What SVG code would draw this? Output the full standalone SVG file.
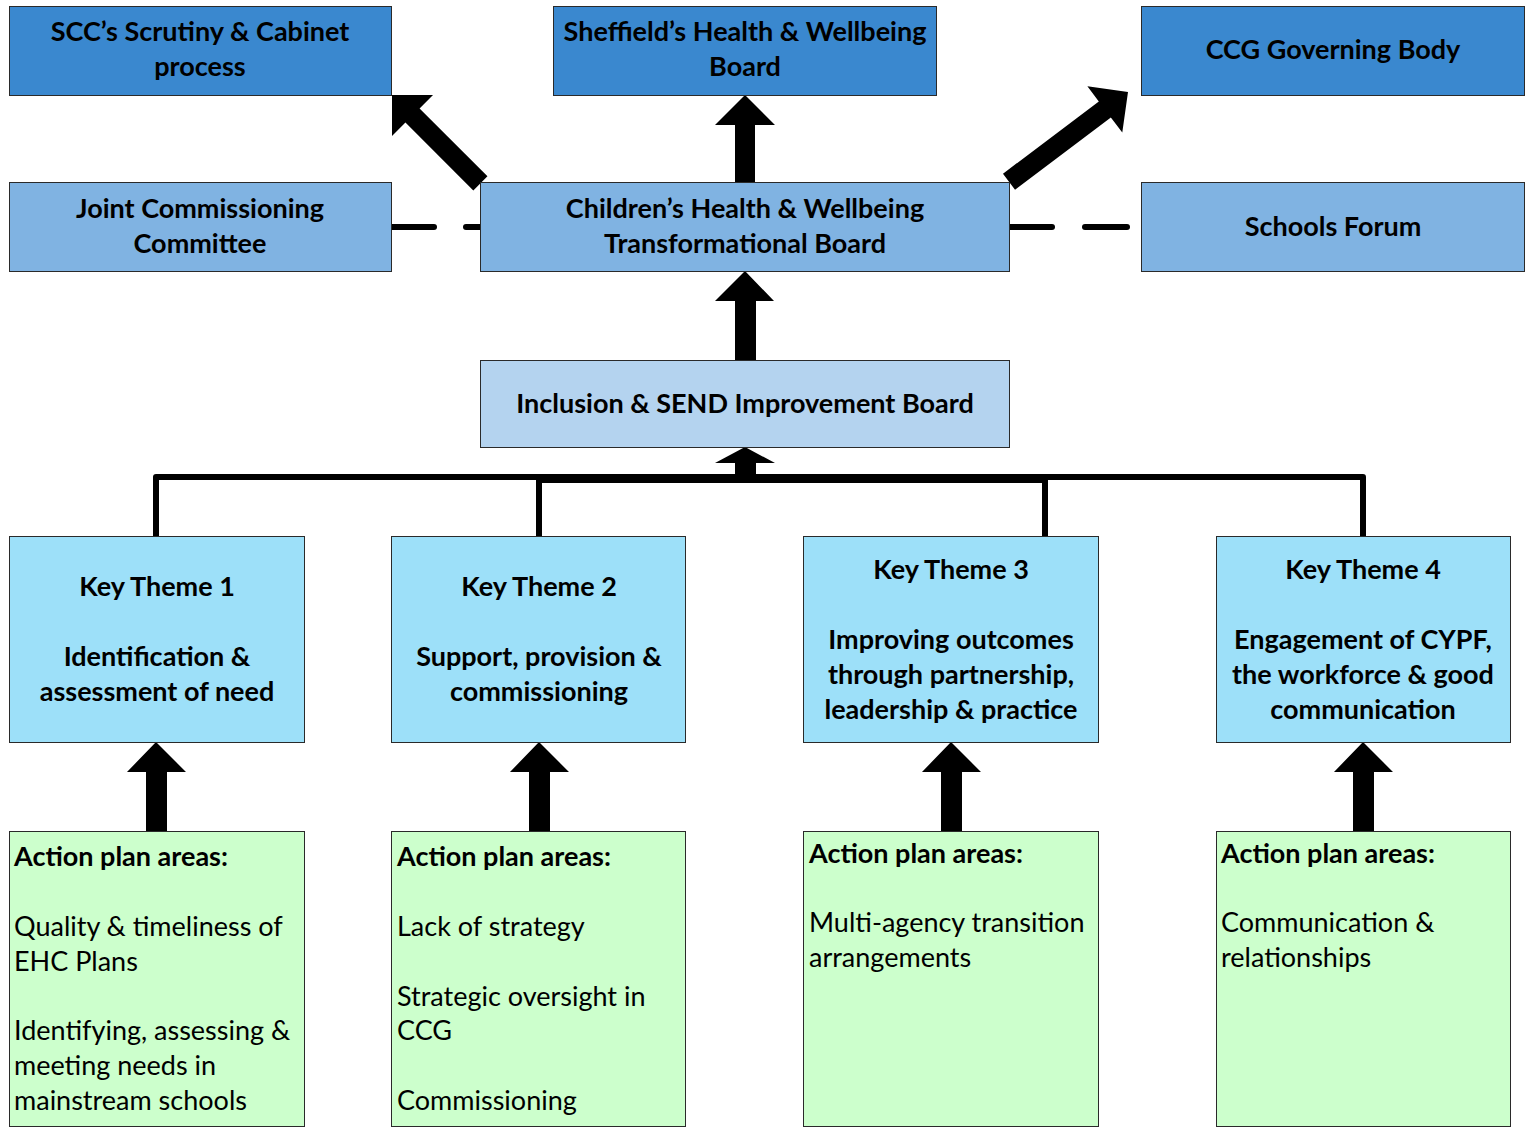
<svg xmlns="http://www.w3.org/2000/svg" width="1528" height="1128" viewBox="0 0 1528 1128">
<style>
  .box{stroke:#2a2a2a;stroke-width:1}
  .top{fill:#3a88cf}
  .mid{fill:#80b3e2}
  .inc{fill:#b4d3ef}
  .key{fill:#9de0f9}
  .act{fill:#ccffcc}
  text{font-family:Lato,"Liberation Sans",sans-serif;font-size:27px;fill:#000}
  .b{font-weight:bold}
  .c{text-anchor:middle}
  .arrow{fill:#000}
  .ln{stroke:#000;stroke-width:6;fill:none;stroke-linecap:round;stroke-linejoin:round}
</style>

<g id="connectors">
  <!-- dashed links -->
  <line class="ln" x1="391" y1="227" x2="434" y2="227"/>
  <line class="ln" x1="466" y1="227" x2="481" y2="227"/>
  <line class="ln" x1="1010" y1="227" x2="1052" y2="227"/>
  <line class="ln" x1="1085" y1="227" x2="1127" y2="227"/>
  <!-- block arrows -->
  <path class="arrow" transform="translate(392,95) rotate(-45)" d="M0,0 L29,29 L10,29 L10,125 L-10,125 L-10,29 L-29,29 Z"/>
  <path class="arrow" transform="translate(1128,92) rotate(53)" d="M0,0 L29,29 L10,29 L10,149 L-10,149 L-10,29 L-29,29 Z"/>
  <path class="arrow" d="M745,95 L775,125 L755,125 L755,182 L735,182 L735,125 L715,125 Z"/>
  <path class="arrow" d="M745,271 L774,301 L756,301 L756,360 L735,360 L735,301 L715,301 Z"/>
  <path class="arrow" d="M745,447 L775,463 L756,463 L756,478 L735,478 L735,463 L715,463 Z"/>
  <path class="arrow" d="M156,742 L186,772 L167,772 L167,831 L146,831 L146,772 L127,772 Z"/>
  <path class="arrow" d="M539,742 L569,772 L550,772 L550,831 L529,831 L529,772 L510,772 Z"/>
  <path class="arrow" d="M951,742 L981,772 L962,772 L962,831 L941,831 L941,772 L922,772 Z"/>
  <path class="arrow" d="M1363,742 L1393,772 L1374,772 L1374,831 L1353,831 L1353,772 L1334,772 Z"/>
  <!-- tree to themes -->
  <polyline class="ln" points="156,538 156,477 1363,477 1363,538"/>
  <polyline class="ln" points="539,538 539,480 1045,480 1045,538"/>
</g>

<g id="scc"><rect class="box top" x="9.5" y="6.5" width="382" height="89"/>
  <text class="b c" x="200" y="41">SCC’s Scrutiny &amp; Cabinet</text>
  <text class="b c" x="200" y="76">process</text></g>
<g id="hwb"><rect class="box top" x="553.5" y="6.5" width="383" height="89"/>
  <text class="b c" x="745" y="41">Sheffield’s Health &amp; Wellbeing</text>
  <text class="b c" x="745" y="76">Board</text></g>
<g id="ccg"><rect class="box top" x="1141.5" y="6.5" width="383" height="89"/>
  <text class="b c" x="1333" y="59">CCG Governing Body</text></g>

<g id="jcc"><rect class="box mid" x="9.5" y="182.5" width="382" height="89"/>
  <text class="b c" x="200" y="218">Joint Commissioning</text>
  <text class="b c" x="200" y="253">Committee</text></g>
<g id="chwtb"><rect class="box mid" x="480.5" y="182.5" width="529" height="89"/>
  <text class="b c" x="745" y="218">Children’s Health &amp; Wellbeing</text>
  <text class="b c" x="745" y="253">Transformational Board</text></g>
<g id="sf"><rect class="box mid" x="1141.5" y="182.5" width="383" height="89"/>
  <text class="b c" x="1333" y="236">Schools Forum</text></g>

<g id="isib"><rect class="box inc" x="480.5" y="360.5" width="529" height="87"/>
  <text class="b c" x="745" y="413">Inclusion &amp; SEND Improvement Board</text></g>

<g id="kt1"><rect class="box key" x="9.5" y="536.5" width="295" height="206"/>
  <text class="b c" x="157" y="596">Key Theme 1</text>
  <text class="b c" x="157" y="666">Identification &amp;</text>
  <text class="b c" x="157" y="701">assessment of need</text></g>
<g id="kt2"><rect class="box key" x="391.5" y="536.5" width="294" height="206"/>
  <text class="b c" x="539" y="596">Key Theme 2</text>
  <text class="b c" x="539" y="666">Support, provision &amp;</text>
  <text class="b c" x="539" y="701">commissioning</text></g>
<g id="kt3"><rect class="box key" x="803.5" y="536.5" width="295" height="206"/>
  <text class="b c" x="951" y="579">Key Theme 3</text>
  <text class="b c" x="951" y="649">Improving outcomes</text>
  <text class="b c" x="951" y="684">through partnership,</text>
  <text class="b c" x="951" y="719">leadership &amp; practice</text></g>
<g id="kt4"><rect class="box key" x="1216.5" y="536.5" width="294" height="206"/>
  <text class="b c" x="1363" y="579">Key Theme 4</text>
  <text class="b c" x="1363" y="649">Engagement of CYPF,</text>
  <text class="b c" x="1363" y="684">the workforce &amp; good</text>
  <text class="b c" x="1363" y="719">communication</text></g>

<g id="ap1"><rect class="box act" x="9.5" y="831.5" width="295" height="295"/>
  <text class="b" x="14" y="866">Action plan areas:</text>
  <text x="14" y="936">Quality &amp; timeliness of</text>
  <text x="14" y="971">EHC Plans</text>
  <text x="14" y="1040">Identifying, assessing &amp;</text>
  <text x="14" y="1075">meeting needs in</text>
  <text x="14" y="1110">mainstream schools</text></g>
<g id="ap2"><rect class="box act" x="391.5" y="831.5" width="294" height="295"/>
  <text class="b" x="397" y="866">Action plan areas:</text>
  <text x="397" y="936">Lack of strategy</text>
  <text x="397" y="1006">Strategic oversight in</text>
  <text x="397" y="1040">CCG</text>
  <text x="397" y="1110">Commissioning</text></g>
<g id="ap3"><rect class="box act" x="803.5" y="831.5" width="295" height="295"/>
  <text class="b" x="809" y="863">Action plan areas:</text>
  <text x="809" y="932">Multi-agency transition</text>
  <text x="809" y="967">arrangements</text></g>
<g id="ap4"><rect class="box act" x="1216.5" y="831.5" width="294" height="295"/>
  <text class="b" x="1221" y="863">Action plan areas:</text>
  <text x="1221" y="932">Communication &amp;</text>
  <text x="1221" y="967">relationships</text></g>
</svg>
